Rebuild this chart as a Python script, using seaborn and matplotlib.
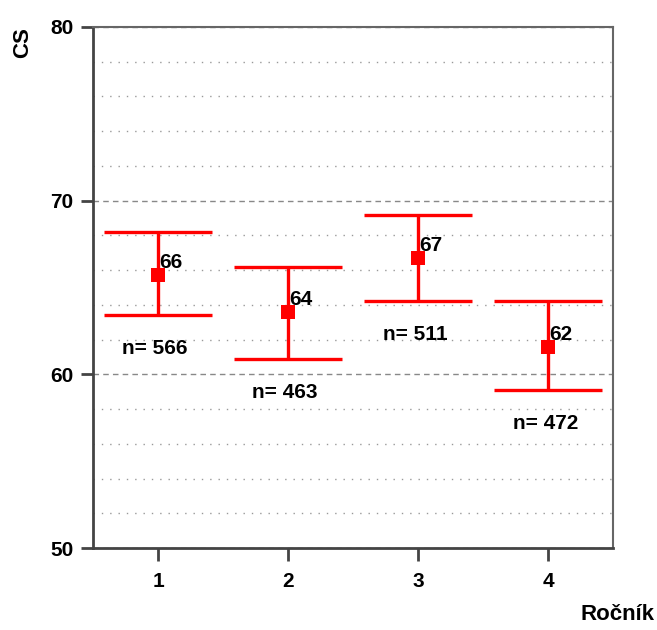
import numpy as np
import pandas as pd
import matplotlib
matplotlib.use("Agg")
import matplotlib.pyplot as plt
import seaborn as sns
from matplotlib.ticker import MultipleLocator

# hodnoty
rocnik = [1, 2, 3, 4]
prumer = [65.7, 63.6, 66.7, 61.6]
horni = [68.2, 66.2, 69.2, 64.2]
dolni = [63.4, 60.9, 64.2, 59.1]
pocet = [566, 463, 511, 472]

df = pd.DataFrame({"rocnik": rocnik, "prumer": prumer,
                   "horni": horni, "dolni": dolni, "n": pocet})

sns.set_style("white")
plt.rcParams["font.family"] = ["Liberation Sans", "DejaVu Sans"]
plt.rcParams["font.weight"] = "bold"
plt.rcParams["text.color"] = "black"
plt.rcParams["axes.labelcolor"] = "black"

cervena = "#ff0000"

fig = plt.figure(figsize=(6.57, 6.3), dpi=100)
ax = fig.add_axes([93 / 657, 82 / 630, 520 / 657, 521 / 630])

# intervaly
ax.errorbar(df["rocnik"], df["prumer"],
            yerr=[df["prumer"] - df["dolni"], df["horni"] - df["prumer"]],
            fmt="none", ecolor=cervena, elinewidth=2.4, capsize=39,
            capthick=2.4, zorder=3)
sns.scatterplot(data=df, x="rocnik", y="prumer", marker="s", s=110,
                color=cervena, edgecolor=cervena, linewidth=0, ax=ax,
                zorder=4, legend=False)

for _, r in df.iterrows():
    ax.annotate(f"{r['prumer']:.0f}", (r["rocnik"], r["prumer"]),
                xytext=(1, 9), textcoords="offset points",
                ha="left", va="center", fontsize=15, fontweight="bold",
                color="black", zorder=5)
    ax.annotate(f"n= {int(r['n'])}", (r["rocnik"], r["dolni"]),
                xytext=(-2, -24), textcoords="offset points",
                ha="center", va="center", fontsize=15, fontweight="bold",
                color="black", zorder=5)

ax.set_xlim(0.5, 4.5)
ax.set_ylim(50, 80)
ax.set_xticks(rocnik)
ax.set_yticks([50, 60, 70, 80])
ax.yaxis.set_minor_locator(MultipleLocator(2))

ax.grid(which="major", axis="y", color="#888888", linestyle=(0, (4, 3)), linewidth=1)
ax.grid(which="minor", axis="y", color="#999999", linestyle=(0, (1, 5)), linewidth=1)
ax.set_axisbelow(True)

ax.tick_params(axis="both", which="major", direction="out", length=9, width=2,
               color="#444444", labelsize=15, labelcolor="black", pad=5,
               bottom=True, left=True)
ax.tick_params(axis="x", which="major", pad=8)
ax.tick_params(axis="y", which="minor", length=0)
for lab in ax.get_xticklabels() + ax.get_yticklabels():
    lab.set_fontweight("bold")

for side in ["left", "bottom"]:
    ax.spines[side].set_color("#444444")
    ax.spines[side].set_linewidth(2)
for side in ["top", "right"]:
    ax.spines[side].set_color("#666666")
    ax.spines[side].set_linewidth(1.5)

ax.set_ylabel("CS", fontsize=16, fontweight="bold", loc="top")
ax.yaxis.set_label_coords(-0.115, 1.0)
ax.set_xlabel("Ročník", fontsize=16, fontweight="bold", loc="right")
ax.xaxis.set_label_coords(1.08, -0.108)

fig.savefig("out.png", dpi=100)
